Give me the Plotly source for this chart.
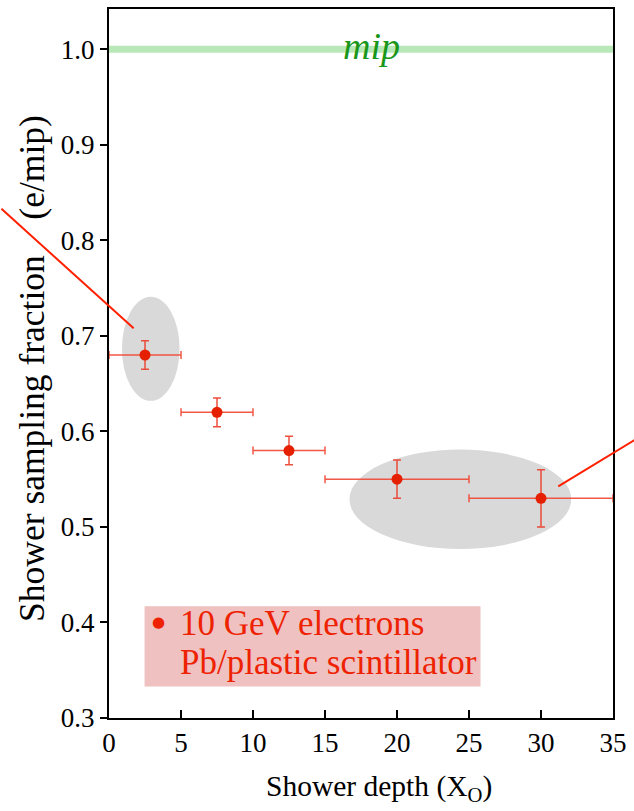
import plotly.graph_objects as go

# Measured shower sampling fraction vs. depth, 10 GeV electrons in Pb/plastic scintillator
depth = [2.5, 7.5, 12.5, 20.0, 30.0]          # bin centre (X0)
depth_minus = [2.5, 2.5, 2.5, 5.0, 5.0]       # half bin width, lower side
depth_plus = [2.5, 2.5, 2.5, 5.0, 5.0]        # half bin width, upper side
frac = [0.68, 0.62, 0.58, 0.55, 0.53]         # e/mip
frac_err = [0.015, 0.015, 0.015, 0.02, 0.03]

mip_level = 1.0
x_ticks = [0, 5, 10, 15, 20, 25, 30, 35]
y_ticks = [0.3, 0.4, 0.5, 0.6, 0.7, 0.8, 0.9, 1.0]

X_RANGE = [0, 35]
Y_RANGE = [0.3, 1.0422]

SERIF = "Liberation Serif"
RED = "#ee2200"


def to_paper(x, y):
    """Convert data coordinates to paper fractions (for marks allowed outside the frame)."""
    return ((x - X_RANGE[0]) / (X_RANGE[1] - X_RANGE[0]),
            (y - Y_RANGE[0]) / (Y_RANGE[1] - Y_RANGE[0]))


fig = go.Figure()

fig.add_trace(go.Scatter(
    x=depth, y=frac, mode="markers",
    marker=dict(color="#e42000", size=11),
    error_x=dict(type="data", array=depth_plus, arrayminus=depth_minus,
                 color="rgba(240,70,50,0.9)", thickness=1.5, width=4),
    error_y=dict(type="data", array=frac_err,
                 color="rgba(235,60,40,0.9)", thickness=1.5, width=4),
    showlegend=False, cliponaxis=True,
))

# mip reference band
fig.add_shape(type="line", x0=0, x1=35, y0=mip_level, y1=mip_level,
              line=dict(color="#b8e8b8", width=7), layer="below")
fig.add_annotation(x=18.2, y=mip_level, text="<i>mip</i>", showarrow=False,
                   font=dict(family=SERIF, size=38, color="#1a961a"),
                   yshift=3)

# grey highlight ellipses
fig.add_shape(type="circle", x0=0.9, x1=4.9, y0=0.632, y1=0.741,
              fillcolor="#d9d9d9", line=dict(width=0), layer="below")
fig.add_shape(type="circle", x0=16.7, x1=32.1, y0=0.477, y1=0.581,
              fillcolor="#d9d9d9", line=dict(width=0), layer="below")

# pointer lines leading out of the frame (data units, drawn in paper space so they are not clipped)
pointers = [((-7.47, 0.833), (1.71, 0.708)),
            ((31.2, 0.5425), (36.6, 0.592))]
for (xa, ya), (xb, yb) in pointers:
    pa = to_paper(xa, ya)
    pb = to_paper(xb, yb)
    fig.add_shape(type="line", xref="paper", yref="paper",
                  x0=pa[0], y0=pa[1], x1=pb[0], y1=pb[1],
                  line=dict(color="#ff2000", width=2))

# legend box
fig.add_shape(type="rect", x0=2.47, x1=25.8, y0=0.333, y1=0.417,
              fillcolor="#efc1c1", line=dict(width=0), layer="below")
fig.add_annotation(x=3.45, y=0.4005, text="●", showarrow=False,
                   font=dict(family="DejaVu Sans", size=15, color=RED))
legend_lines = [("10 GeV electrons", 0.399), ("Pb/plastic scintillator", 0.358)]
for txt, ypos in legend_lines:
    fig.add_annotation(x=4.8, y=ypos, xanchor="left", text=txt, showarrow=False,
                       font=dict(family=SERIF, size=35, color=RED))

# axis titles
fig.add_annotation(xref="paper", yref="paper", x=0.536, y=-0.099,
                   xanchor="center", yanchor="middle",
                   text="Shower depth (X<sub>O</sub>)", showarrow=False,
                   font=dict(family=SERIF, size=29.5, color="black"))
fig.add_annotation(xref="paper", yref="paper", x=-0.1526, y=0.4925, textangle=-90,
                   xanchor="center", yanchor="middle",
                   text="Shower sampling fraction\u00a0\u00a0\u00a0\u00a0(e/mip)",
                   showarrow=False,
                   font=dict(family=SERIF, size=35.5, color="black"))

axis_common = dict(showline=True, linecolor="black", linewidth=2, mirror=True,
                   showgrid=False, zeroline=False, tickwidth=1.5,
                   tickcolor="black",
                   tickfont=dict(family=SERIF, size=27, color="black"))

fig.update_xaxes(range=X_RANGE, tickvals=x_ticks, ticks="inside", ticklen=8,
                 **axis_common)
fig.update_yaxes(range=Y_RANGE, tickvals=y_ticks, ticks="outside",
                 tickformat=".1f", ticklen=7, **axis_common)

fig.update_layout(width=634, height=811,
                  margin=dict(l=109, r=14, t=7, b=93),
                  font=dict(family=SERIF, color="black"),
                  plot_bgcolor="white", paper_bgcolor="white")

fig.write_html("out.html")
